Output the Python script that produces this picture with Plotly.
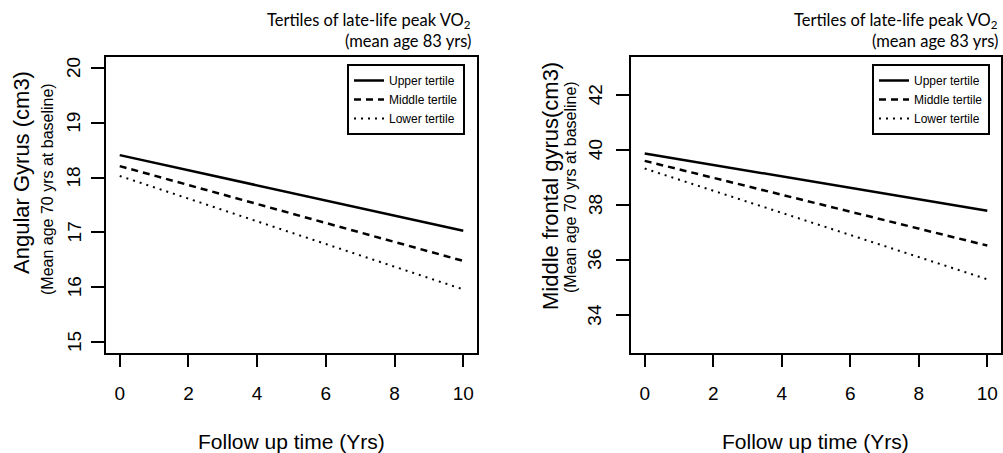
import plotly.graph_objects as go

# ---- data ----
follow_up_years = [0, 10]
tertile_names = ["Upper tertile", "Middle tertile", "Lower tertile"]

angular_upper = [18.41, 17.03]
angular_middle = [18.21, 16.48]
angular_lower = [18.03, 15.96]

mfg_upper = [39.88, 37.79]
mfg_middle = [39.61, 36.52]
mfg_lower = [39.33, 35.29]

angular_ticks = [15, 16, 17, 18, 19, 20]
mfg_ticks = [34, 36, 38, 40, 42]
x_ticks = [0, 2, 4, 6, 8, 10]

W, H = 1003, 453
def px(x):
    return x / W
def py(y):
    return 1 - y / H

styles = [
    dict(color="black", width=2.5, dash="solid"),
    dict(color="black", width=2.5, dash="7px,5px"),
    dict(color="black", width=2, dash="2px,5px"),
]

fig = go.Figure()
for vals, name, st in zip([angular_upper, angular_middle, angular_lower], tertile_names, styles):
    fig.add_trace(go.Scatter(x=follow_up_years, y=vals, mode="lines", name=name,
                             line=st, xaxis="x", yaxis="y", legend="legend"))
for vals, name, st in zip([mfg_upper, mfg_middle, mfg_lower], tertile_names, styles):
    fig.add_trace(go.Scatter(x=follow_up_years, y=vals, mode="lines", name=name,
                             line=st, xaxis="x2", yaxis="y2", legend="legend2"))

tickfont = dict(family="Liberation Sans, Arial", size=19, color="black")
ydom = [py(353), py(57)]

common_x = dict(range=[-0.4, 10.4], tickvals=x_ticks, ticks="outside", ticklen=12, tickwidth=2,
                tickcolor="black", showline=True, linecolor="black", linewidth=2, mirror=True,
                showgrid=False, zeroline=False, tickfont=tickfont, ticklabelstandoff=10)
common_y = dict(ticks="outside", ticklen=13, tickwidth=2, tickcolor="black", showline=True,
                linecolor="black", linewidth=2, mirror=True, showgrid=False, zeroline=False,
                showticklabels=False)

legfont = dict(family="Liberation Sans, Arial", size=12, color="black")
fig.update_layout(
    width=W, height=H,
    margin=dict(l=0, r=0, t=0, b=0),
    paper_bgcolor="white", plot_bgcolor="white",
    xaxis=dict(domain=[px(106), px(477)], anchor="y", **common_x),
    yaxis=dict(domain=ydom, anchor="x", range=[14.8, 20.2], tickvals=angular_ticks, **common_y),
    xaxis2=dict(domain=[px(631), px(1001)], anchor="y2", **common_x),
    yaxis2=dict(domain=ydom, anchor="x2", range=[32.6, 43.4], tickvals=mfg_ticks, **common_y),
    legend=dict(x=px(465), y=py(64), xanchor="right", yanchor="top", bordercolor="black",
                borderwidth=2, bgcolor="white", font=legfont),
    legend2=dict(x=px(990), y=py(64), xanchor="right", yanchor="top", bordercolor="black",
                 borderwidth=2, bgcolor="white", font=legfont),
    showlegend=True,
)

ann = []
# rotated y tick labels, placed at the tick values on each y axis
for t in angular_ticks:
    ann.append(dict(x=px(74), y=t, xref="paper", yref="y", xanchor="center", yanchor="middle",
                    text=str(t), textangle=-90, showarrow=False, font=tickfont))
for t in mfg_ticks:
    ann.append(dict(x=px(595), y=t, xref="paper", yref="y2", xanchor="center", yanchor="middle",
                    text=str(t), textangle=-90, showarrow=False, font=tickfont))

titlefont = dict(family="Lato", size=16.5, color="black")
for xr in [473, 1000]:
    ann.append(dict(x=px(xr), y=py(20), xref="paper", yref="paper", xanchor="right", yanchor="middle",
                    text="Tertiles of late-life peak VO<sub>2</sub>", showarrow=False, font=titlefont))
    ann.append(dict(x=px(xr), y=py(41), xref="paper", yref="paper", xanchor="right", yanchor="middle",
                    text="(mean age 83 yrs)", showarrow=False, font=titlefont))

xlabfont = dict(family="Liberation Sans, Arial", size=21, color="black")
ylabfont = dict(family="Liberation Sans, Arial", size=22, color="black")
subfont = dict(family="Liberation Sans, Arial", size=16, color="black")
for xc in [291, 815]:
    ann.append(dict(x=px(xc), y=py(441), xref="paper", yref="paper", xanchor="center", yanchor="middle",
                    text="Follow up time (Yrs)", showarrow=False, font=xlabfont))

ann.append(dict(x=px(22), y=py(173), xref="paper", yref="paper", xanchor="center", yanchor="middle",
                text="Angular Gyrus (cm3)", textangle=-90, showarrow=False, font=ylabfont))
ann.append(dict(x=px(47), y=py(189), xref="paper", yref="paper", xanchor="center", yanchor="middle",
                text="(Mean age 70 yrs at baseline)", textangle=-90, showarrow=False, font=subfont))
ann.append(dict(x=px(550), y=py(186), xref="paper", yref="paper", xanchor="center", yanchor="middle",
                text="Middle frontal gyrus(cm3)", textangle=-90, showarrow=False, font=ylabfont))
ann.append(dict(x=px(570), y=py(187), xref="paper", yref="paper", xanchor="center", yanchor="middle",
                text="(Mean age 70 yrs at baseline)", textangle=-90, showarrow=False, font=subfont))

fig.update_layout(annotations=ann)
fig.write_html("out.html", config={"displayModeBar": False},
               post_script="document.body.style.margin='0';document.body.style.overflow='hidden';")
